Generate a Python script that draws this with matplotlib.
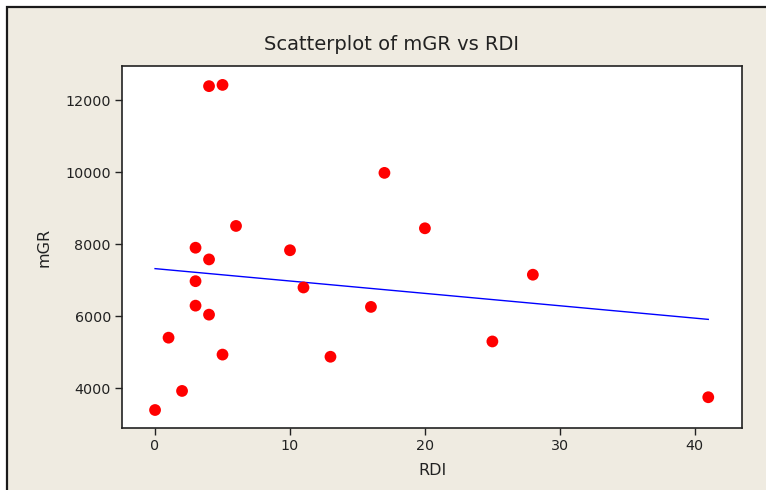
import matplotlib
matplotlib.use("Agg")
import matplotlib.pyplot as plt
from matplotlib.patches import Rectangle
import numpy as np

rdi = [0, 1, 2, 3, 3, 3, 4, 4, 4, 5, 5, 6, 10, 11, 13, 16, 17, 20, 25, 28, 41]
mgr = [3390, 5400, 3920, 7900, 6970, 6290, 12390, 7575, 6040, 12425, 4930,
       8505, 7830, 6795, 4870, 6255, 9980, 8440, 5295, 7150, 3745]
xticks = [0, 10, 20, 30, 40]
yticks = [4000, 6000, 8000, 10000, 12000]

plt.rcParams['font.family'] = ['DejaVu Sans']

W, H = 766, 490
fig = plt.figure(figsize=(W / 100, H / 100), dpi=100, facecolor='white')
bg = '#EFEBE1'
fig.patches.append(Rectangle((7 / W, -0.1), 1.2, 1 - 7 / H + 0.1, transform=fig.transFigure,
                             facecolor=bg, edgecolor='#1a1a1a', linewidth=1.6, zorder=-10))

ax = fig.add_axes([122 / W, 1 - 428 / H, (742 - 122) / W, (428 - 66) / H])
ax.set_facecolor('white')
ax.scatter(rdi, mgr, s=72, color='#FF0000', edgecolors='none', zorder=3)

b, a = np.polyfit(rdi, mgr, 1)
xs = np.array([min(rdi), max(rdi)])
ax.plot(xs, a + b * xs, color='#0000FF', lw=1.0, zorder=2)

ax.set_xlim(-2.45, 43.5)
ax.set_ylim(2890, 12950)
ax.set_xticks(xticks)
ax.set_yticks(yticks)
for s in ['left', 'bottom', 'right', 'top']:
    ax.spines[s].set_color('#222222')
    ax.spines[s].set_linewidth(1.2)
ax.tick_params(direction='out', length=5, width=1, color='#222222', labelsize=10.3,
               labelcolor='#222222', pad=3)
ax.set_xlabel('RDI', fontsize=11.5, color='#222222', labelpad=7)
ax.set_ylabel('mGR', fontsize=11.5, color='#222222', labelpad=10)
fig.text(392 / W, 1 - 44 / H, 'Scatterplot of mGR vs RDI', ha='center', va='center',
         fontsize=14, color='#222222')

fig.savefig('out.png', dpi=100, facecolor=fig.get_facecolor())
